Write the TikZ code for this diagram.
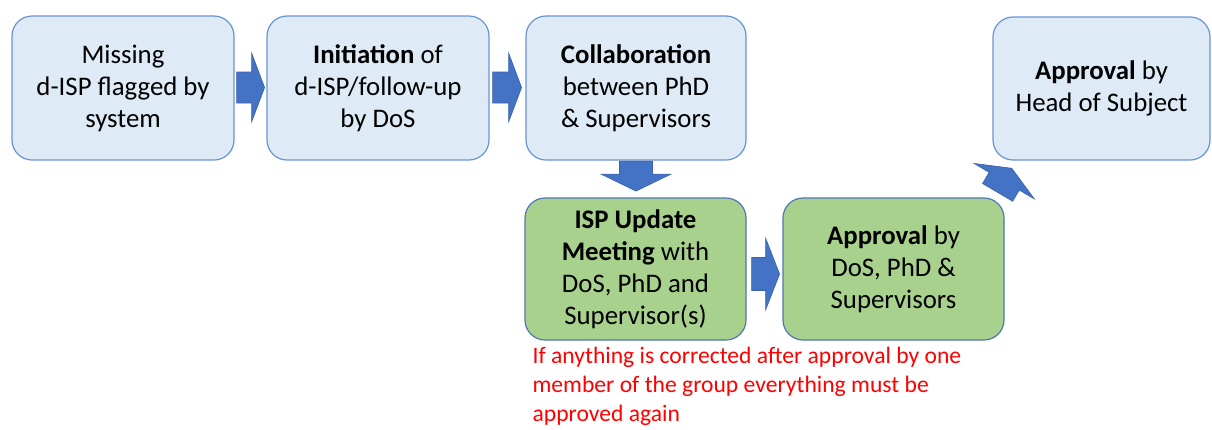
\documentclass[tikz,border=0pt]{standalone}
\usepackage{fontspec}
\setmainfont{Carlito}
\usetikzlibrary{calc}

\definecolor{boxblue}{HTML}{DEEBF7}
\definecolor{lineblue}{HTML}{6A93D4}
\definecolor{boxgreen}{HTML}{A9D18E}
\definecolor{linegreen}{HTML}{4F76B5}
\definecolor{arrowfill}{HTML}{4472C4}
\definecolor{arrowline}{HTML}{3A62A8}

\tikzset{
  stepbox/.style={draw=lineblue, fill=boxblue, line width=1.2pt, rounded corners=20pt,
    align=center, inner sep=0pt, font=\fontsize{26.8}{32}\selectfont},
  greenbox/.style={stepbox, draw=linegreen, fill=boxgreen},
  fatarrow/.style={fill=arrowfill, draw=arrowline, line width=0.6pt, line join=miter},
  note/.style={align=left, anchor=north west, inner sep=0pt, text=red,
    font=\fontsize{23.6}{29}\selectfont}
}

% block arrow: #1 tail point, #2 direction, #3 length, #4 shaft half width,
% #5 head length, #6 head half width
\newcommand{\blockarrow}[6]{%
  \begin{scope}[shift={#1}, rotate=#2]
    \filldraw[fatarrow] (0,-#4) -- ({#3-#5},-#4) -- ({#3-#5},-#6) -- (#3,0)
      -- ({#3-#5},#6) -- ({#3-#5},#4) -- (0,#4) -- cycle;
  \end{scope}}

\begin{document}
\begin{tikzpicture}[x=1pt, y=1pt]
  \useasboundingbox (0,0) rectangle (1212,-429);

  % top row
  \node[stepbox, minimum width=222pt, minimum height=144pt] (flag) at (123,-88)
    {Missing\\d-ISP flagged by\\system};
  \node[stepbox, minimum width=222pt, minimum height=144pt] (init) at (378,-88)
    {\textbf{Initiation} of\\d-ISP/follow-up\\by DoS};
  \node[stepbox, minimum width=220pt, minimum height=144pt] (collab) at (636,-88)
    {\textbf{Collaboration}\\between PhD\\\& Supervisors};
  \node[stepbox, minimum width=217pt, minimum height=143pt] (head) at (1101.5,-88.5)
    {\textbf{Approval} by\\Head of Subject};

  % bottom row
  \node[greenbox, minimum width=221pt, minimum height=142pt] (meet) at (635.5,-269)
    {\textbf{ISP Update}\\\textbf{Meeting} with\\DoS, PhD and\\Supervisor(s)};
  \node[greenbox, minimum width=221pt, minimum height=142pt] (appr) at (893.5,-269)
    {\textbf{Approval} by\\DoS, PhD \&\\Supervisors};

  % note below the meeting box
  \node[note] (warn) at ($(meet.south west)+(8,-6)$)
    {If anything is corrected after approval by one\\member of the group everything must be\\approved again};

  % block arrows between the steps
  \blockarrow{($(flag.east)+(2,0.5)$)}{0}{28}{15.5}{13}{34.5}
  \blockarrow{($(init.east)+(3,0.5)$)}{0}{29}{15.5}{13}{34.5}
  \blockarrow{($(collab.south)+(0,-0.5)$)}{-90}{30}{16.5}{17}{35}
  \blockarrow{($(meet.east)+(5,-5)$)}{0}{28}{16.5}{14}{36}
  \blockarrow{($(appr.north east)+(-7,5)$)}{59.5}{28}{17.5}{15}{35}
\end{tikzpicture}
\end{document}
